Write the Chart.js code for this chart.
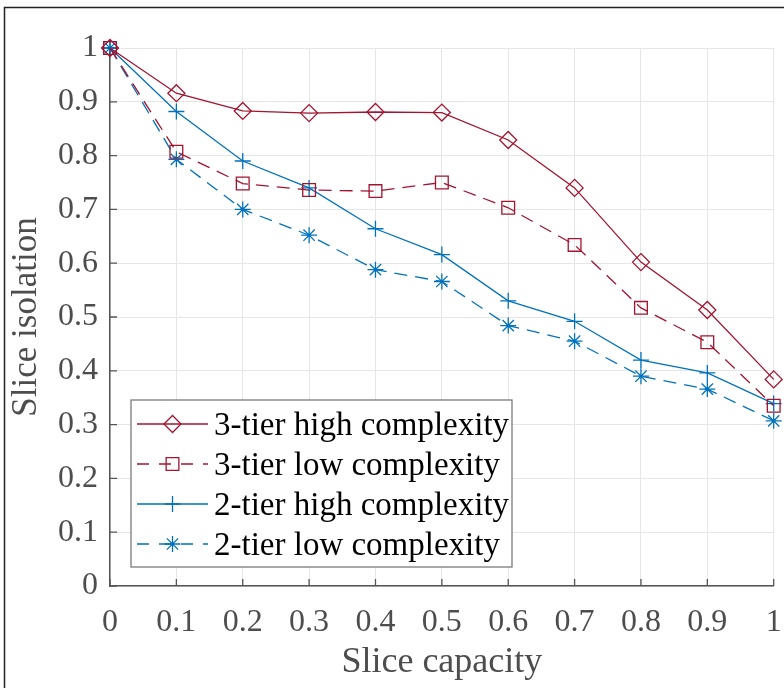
<!DOCTYPE html>
<html>
<head>
<meta charset="utf-8">
<script src="https://cdn.jsdelivr.net/npm/chart.js@4.4.1/dist/chart.umd.min.js"></script>
<style>
    body { margin: 0; background: #fff; }
    #wrap { width: 784px; height: 688px; }
</style>
</head>
<body>
<div id="wrap"><canvas id="isolationChart" width="784" height="688"></canvas></div>
<script>
// Slice capacity (x axis)
const capacity = [0, 0.1, 0.2, 0.3, 0.4, 0.5, 0.6, 0.7, 0.8, 0.9, 1];

// Slice isolation values
const tier3High = [1, 0.916, 0.883, 0.879, 0.881, 0.880, 0.829, 0.740, 0.602, 0.513, 0.384];
const tier3Low  = [1, 0.807, 0.748, 0.736, 0.734, 0.750, 0.703, 0.634, 0.517, 0.453, 0.335];
const tier2High = [1, 0.882, 0.790, 0.740, 0.664, 0.616, 0.530, 0.492, 0.420, 0.396, 0.339];
const tier2Low  = [1, 0.793, 0.700, 0.652, 0.588, 0.566, 0.484, 0.455, 0.390, 0.366, 0.307];

const seriesLabels = ['3-tier high complexity', '3-tier low complexity', '2-tier high complexity', '2-tier low complexity'];

const RED = '#A2142F';
const BLUE = '#0072BD';
const DASH = [13, 8];
const FONT = "'Liberation Serif', 'Times New Roman', serif";

function toPoints(values) {
    return values.map((v, i) => ({ x: capacity[i], y: v }));
}

function makeDataset(label, values, color, dashed, style, radius) {
    return {
        label: label,
        data: toPoints(values),
        borderColor: color,
        backgroundColor: 'rgba(0,0,0,0)',
        borderWidth: 1.3,
        borderDash: dashed ? DASH : [],
        pointStyle: style,
        pointRadius: radius,
        pointHoverRadius: radius,
        pointBorderColor: color,
        pointBackgroundColor: 'rgba(0,0,0,0)',
        pointBorderWidth: 1.3,
        tension: 0,
        clip: false
    };
}

// Figure frame (border round the whole figure)
const framePlugin = {
    id: 'frame',
    beforeDraw(chart) {
        const ctx = chart.ctx;
        ctx.save();
        ctx.strokeStyle = '#222';
        ctx.lineWidth = 1.5;
        ctx.strokeRect(4.5, 7.5, chart.width + 20, chart.height + 20);
        ctx.restore();
    }
};

// Inward tick marks like MATLAB
const innerTicks = {
    id: 'innerTicks',
    beforeDatasetsDraw(chart) {
        const ctx = chart.ctx;
        const { x, y } = chart.scales;
        const len = 7;
        ctx.save();
        ctx.strokeStyle = '#555';
        ctx.lineWidth = 1.3;
        ctx.beginPath();
        y.ticks.forEach(t => {
            const py = y.getPixelForValue(t.value);
            ctx.moveTo(x.left, py);
            ctx.lineTo(x.left + len, py);
        });
        x.ticks.forEach(t => {
            const px = x.getPixelForValue(t.value);
            ctx.moveTo(px, y.bottom);
            ctx.lineTo(px, y.bottom - len);
        });
        ctx.stroke();
        ctx.restore();
    }
};

// Legend box inside the plot, bottom left
const innerLegend = {
    id: 'innerLegend',
    afterDatasetsDraw(chart) {
        const ctx = chart.ctx;
        const box = { left: 131, top: 400, right: 512, bottom: 567 };
        const rows = [424, 464, 504, 544];
        ctx.save();
        ctx.fillStyle = '#fff';
        ctx.fillRect(box.left, box.top, box.right - box.left, box.bottom - box.top);
        ctx.strokeStyle = '#7a7a7a';
        ctx.lineWidth = 1.3;
        ctx.strokeRect(box.left, box.top, box.right - box.left, box.bottom - box.top);

        chart.data.datasets.forEach((ds, i) => {
            const ry = rows[i];
            ctx.strokeStyle = ds.borderColor;
            ctx.lineWidth = ds.borderWidth;
            ctx.setLineDash(ds.borderDash.length ? [12, 10] : []);
            ctx.beginPath();
            ctx.moveTo(137, ry);
            ctx.lineTo(208, ry);
            ctx.stroke();
            ctx.setLineDash([]);
            ctx.fillStyle = 'rgba(0,0,0,0)';
            Chart.helpers.drawPoint(ctx, {
                pointStyle: ds.pointStyle,
                radius: ds.pointRadius,
                borderWidth: ds.pointBorderWidth,
                rotation: 0
            }, 172.5, ry);

            ctx.fillStyle = '#000';
            ctx.font = '33px ' + FONT;
            ctx.textAlign = 'left';
            ctx.textBaseline = 'middle';
            ctx.fillText(ds.label, 214, ry + 2);
        });
        ctx.restore();
    }
};

const ctx = document.getElementById('isolationChart').getContext('2d');
new Chart(ctx, {
    type: 'line',
    data: {
        datasets: [
            makeDataset(seriesLabels[0], tier3High, RED, false, 'rectRot', 8.5),
            makeDataset(seriesLabels[1], tier3Low, RED, true, 'rect', 9),
            makeDataset(seriesLabels[2], tier2High, BLUE, false, 'cross', 8),
            makeDataset(seriesLabels[3], tier2Low, BLUE, true, 'star', 8)
        ]
    },
    options: {
        responsive: false,
        animation: false,
        events: [],
        layout: { padding: { left: 0, top: 48, right: 10, bottom: 0 } },
        plugins: {
            legend: { display: false },
            tooltip: { enabled: false }
        },
        scales: {
            x: {
                type: 'linear',
                min: 0,
                max: 1,
                afterFit: s => { s.height = 102; s.paddingRight = 0; s.paddingLeft = 0; },
                ticks: {
                    stepSize: 0.1,
                    padding: 17,
                    color: '#4d4d4d',
                    font: { family: FONT, size: 32 },
                    maxRotation: 0,
                    callback: v => String(+v.toFixed(1))
                },
                grid: { color: '#e6e6e6', lineWidth: 1, drawTicks: false },
                border: { color: '#555', width: 1.5 },
                title: {
                    display: true,
                    text: 'Slice capacity',
                    color: '#4d4d4d',
                    font: { family: FONT, size: 36 },
                    padding: { top: 0, bottom: 4 }
                }
            },
            y: {
                min: 0,
                max: 1,
                afterFit: s => { s.width = 110; },
                ticks: {
                    stepSize: 0.1,
                    padding: 12,
                    color: '#4d4d4d',
                    font: { family: FONT, size: 32 },
                    callback: v => String(+v.toFixed(1))
                },
                grid: { color: '#e6e6e6', lineWidth: 1, drawTicks: false },
                border: { color: '#555', width: 1.5 },
                title: {
                    display: true,
                    text: 'Slice isolation',
                    color: '#4d4d4d',
                    font: { family: FONT, size: 35 },
                    padding: { top: 6, bottom: 0 }
                }
            }
        }
    },
    plugins: [framePlugin, innerTicks, innerLegend]
});
</script>
</body>
</html>
